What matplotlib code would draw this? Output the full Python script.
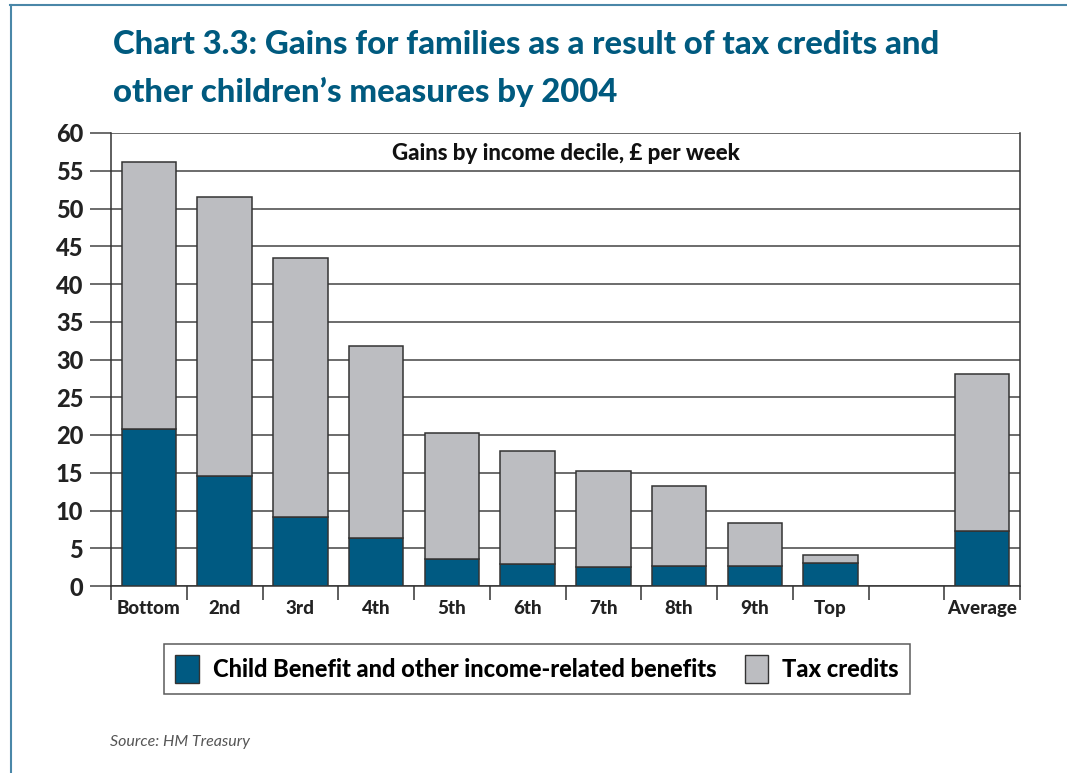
import matplotlib
matplotlib.use('Agg')
import matplotlib.pyplot as plt
from matplotlib.lines import Line2D
from matplotlib.patches import Patch
import numpy as np

# data (pounds per week)
categories = ['Bottom', '2nd', '3rd', '4th', '5th', '6th', '7th', '8th', '9th', 'Top', '', 'Average']
child_benefit = [20.8, 14.6, 9.1, 6.4, 3.6, 2.9, 2.5, 2.7, 2.7, 3.1, 0, 7.3]
total_gain = [56.2, 51.5, 43.4, 31.8, 20.3, 17.9, 15.2, 13.3, 8.4, 4.1, 0, 28.1]
tax_credits = [t - c for t, c in zip(total_gain, child_benefit)]
y_ticks = list(range(0, 61, 5))

dark = '#005a82'
grey = '#bcbdc1'
title_col = '#005a7f'
heavy = 'black'

plt.rcParams['font.family'] = ['Lato', 'DejaVu Sans']

fig = plt.figure(figsize=(10.67, 7.73), dpi=100)
ax = fig.add_axes([111/1067, 1 - 586/773, (1020-111)/1067, (586-133)/773])

x = np.arange(len(categories))
w = 0.72
ax.bar(x, child_benefit, w, color=dark, edgecolor='#333333', linewidth=1.1, zorder=3)
ax.bar(x, tax_credits, w, bottom=child_benefit, color=grey, edgecolor='#333333', linewidth=1.1, zorder=3)
# hide the empty gap slot
ax.patches[10].set_visible(False)
ax.patches[22].set_visible(False)

ax.set_xlim(-0.5, len(categories) - 0.5)
ax.set_ylim(0, 60)
ax.set_yticks(y_ticks)
ax.set_yticklabels([str(v) for v in y_ticks], fontsize=17, fontweight=heavy, color='#222222')
ax.yaxis.grid(True, color='#444444', linewidth=1.1, zorder=0)
ax.tick_params(axis='y', length=15, width=1.1, color='#444444', pad=5)

ax.set_xticks(x)
ax.set_xticklabels(categories, fontsize=13.5, fontweight=heavy, color='#222222')
ax.set_xticks(np.arange(-0.5, len(categories)), minor=True)
ax.tick_params(axis='x', which='major', length=0, pad=10)
ax.tick_params(axis='x', which='minor', length=10, width=1.1, color='#333333')

ax.spines['top'].set_visible(False)
for s in ['left', 'right', 'bottom']:
    ax.spines[s].set_color('#333333')
    ax.spines[s].set_linewidth(1.1)

ax.text(0.5, 0.955, 'Gains by income decile, £ per week', transform=ax.transAxes,
        ha='center', va='center', fontsize=16, fontweight=heavy, color='#111111')

fig.text(113/1067, 1 - 45/773, 'Chart 3.3: Gains for families as a result of tax credits and',
         fontsize=23.7, fontweight=heavy, color=title_col, va='center', ha='left')
fig.text(113/1067, 1 - 92/773, 'other children\u2019s measures by 2004',
         fontsize=23.7, fontweight=heavy, color=title_col, va='center', ha='left')

handles = [Patch(facecolor=dark, edgecolor='#333333'), Patch(facecolor=grey, edgecolor='#333333')]
leg = fig.legend(handles, ['Child Benefit and other income-related benefits', 'Tax credits'],
                 loc='center', bbox_to_anchor=(537/1067, 1 - 669/773), ncol=2, frameon=True,
                 fancybox=False, edgecolor='#333333', handlelength=1.0, handleheight=1.5,
                 columnspacing=1.2, handletextpad=0.6, borderpad=0.45,
                 prop={'weight': heavy, 'size': 17})
leg.get_frame().set_linewidth(1.1)

fig.text(110/1067, 1 - 742/773, 'Source: HM Treasury', fontsize=11.5, fontstyle='italic',
         fontweight='normal', color='#555555', va='center', ha='left')

# page border lines
fig.add_artist(Line2D([10/1067, 1.0], [1 - 5/773, 1 - 5/773], color='#4a87a8', linewidth=1.5))
fig.add_artist(Line2D([11/1067, 11/1067], [0, 1 - 5/773], color='#4a87a8', linewidth=1.5))

fig.savefig('out.png', dpi=100)
